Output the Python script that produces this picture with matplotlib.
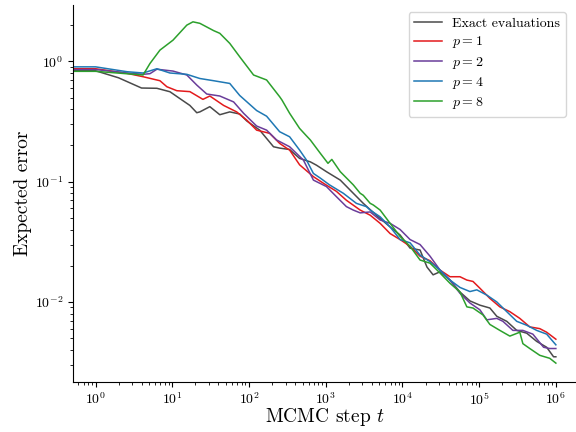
import numpy as np
import matplotlib
matplotlib.use("Agg")
import matplotlib.pyplot as plt

plt.rcParams['font.family'] = 'serif'
plt.rcParams['font.serif'] = ['cmr10', 'DejaVu Serif']
plt.rcParams['mathtext.fontset'] = 'cm'
plt.rcParams['axes.formatter.use_mathtext'] = True

# log10 of MCMC step t, and expected error
exact_lt = [-0.30, 0.00, 0.30, 0.60, 0.80, 0.97, 1.08, 1.23, 1.32, 1.36, 1.49, 1.62, 1.75, 1.88,
            1.97, 2.14, 2.32, 2.40, 2.53, 2.66, 2.80, 2.88, 3.01, 3.19, 3.36, 3.49, 3.66, 3.84,
            3.97, 4.10, 4.23, 4.32, 4.40, 4.49, 4.62, 4.75, 4.88, 5.01, 5.14, 5.23, 5.36, 5.49,
            5.62, 5.75, 5.88, 5.97, 6.00]
exact_err = [0.835, 0.835, 0.73, 0.60, 0.597, 0.559, 0.50, 0.43, 0.374, 0.38, 0.42, 0.36, 0.38, 0.365,
             0.32, 0.268, 0.195, 0.19, 0.185, 0.156, 0.146, 0.137, 0.121, 0.103, 0.080, 0.066, 0.0526, 0.042,
             0.036, 0.028, 0.027, 0.0195, 0.0168, 0.0178, 0.0152, 0.0121, 0.0102, 0.0094, 0.0089, 0.0076, 0.0069, 0.0058,
             0.0055, 0.0047, 0.0042, 0.0035, 0.0035]

p1_lt = [-0.30, 0.00, 0.41, 0.62, 0.84, 0.93, 1.06, 1.23, 1.40, 1.49, 1.67, 1.84, 1.97, 2.10,
         2.27, 2.40, 2.49, 2.53, 2.66, 2.84, 2.97, 3.14, 3.27, 3.45, 3.58, 3.71, 3.84, 3.97,
         4.10, 4.23, 4.36, 4.49, 4.62, 4.75, 4.84, 4.92, 5.01, 5.14, 5.27, 5.40, 5.53, 5.66,
         5.79, 5.88, 6.00]
p1_err = [0.868, 0.868, 0.795, 0.745, 0.69, 0.615, 0.57, 0.56, 0.483, 0.515, 0.43, 0.38, 0.325, 0.268,
          0.252, 0.208, 0.19, 0.183, 0.138, 0.11, 0.097, 0.083, 0.070, 0.058, 0.0526, 0.045, 0.037, 0.033,
          0.029, 0.024, 0.022, 0.0184, 0.0162, 0.0162, 0.0152, 0.0148, 0.013, 0.0107, 0.0091, 0.0083, 0.0073, 0.0062,
          0.0060, 0.0056, 0.0049]

p2_lt = [-0.30, 0.00, 0.41, 0.62, 0.71, 0.80, 1.01, 1.19, 1.32, 1.45, 1.62, 1.80, 1.93, 2.10,
         2.23, 2.36, 2.53, 2.71, 2.84, 3.01, 3.14, 3.27, 3.36, 3.45, 3.58, 3.71, 3.84, 3.97,
         4.10, 4.23, 4.36, 4.49, 4.62, 4.75, 4.88, 5.01, 5.10, 5.23, 5.31, 5.44, 5.57, 5.70,
         5.84, 5.92, 6.00]
p2_err = [0.855, 0.855, 0.80, 0.78, 0.79, 0.86, 0.83, 0.77, 0.635, 0.535, 0.515, 0.46, 0.37, 0.29,
          0.268, 0.222, 0.195, 0.151, 0.103, 0.091, 0.075, 0.062, 0.058, 0.055, 0.056, 0.048, 0.045, 0.040,
          0.033, 0.030, 0.024, 0.0184, 0.0152, 0.0118, 0.0098, 0.0086, 0.0071, 0.0073, 0.0069, 0.0058, 0.0058, 0.0054,
          0.0042, 0.0041, 0.0041]

p4_lt = [-0.30, 0.00, 0.41, 0.62, 0.80, 0.97, 1.19, 1.36, 1.54, 1.75, 1.88, 2.10, 2.23, 2.40,
         2.53, 2.66, 2.75, 2.84, 2.93, 3.05, 3.23, 3.40, 3.53, 3.58, 3.71, 3.84, 3.97, 4.10,
         4.23, 4.36, 4.49, 4.62, 4.75, 4.88, 4.97, 5.10, 5.23, 5.36, 5.49, 5.62, 5.75, 5.88,
         6.00]
p4_err = [0.90, 0.90, 0.82, 0.80, 0.868, 0.80, 0.78, 0.72, 0.69, 0.655, 0.52, 0.39, 0.35, 0.26,
          0.236, 0.183, 0.151, 0.117, 0.107, 0.094, 0.080, 0.066, 0.062, 0.058, 0.051, 0.042, 0.033, 0.031,
          0.0245, 0.0216, 0.0184, 0.0152, 0.0132, 0.0122, 0.0126, 0.0114, 0.010, 0.0083, 0.0069, 0.0064, 0.0058, 0.0054,
          0.0044]

p8_lt = [-0.30, 0.00, 0.62, 0.71, 0.84, 1.01, 1.19, 1.27, 1.36, 1.54, 1.62, 1.75, 1.88, 2.06,
         2.23, 2.40, 2.43, 2.53, 2.66, 2.75, 2.80, 2.93, 3.03, 3.08, 3.19, 3.36, 3.45, 3.49,
         3.58, 3.62, 3.71, 3.84, 3.97, 4.10, 4.23, 4.36, 4.49, 4.62, 4.75, 4.84, 4.92, 5.05,
         5.14, 5.27, 5.40, 5.53, 5.57, 5.66, 5.79, 5.92, 6.00]
p8_err = [0.826, 0.826, 0.77, 0.96, 1.24, 1.50, 2.0, 2.13, 2.07, 1.80, 1.71, 1.41, 1.09, 0.77,
          0.70, 0.508, 0.477, 0.37, 0.277, 0.24, 0.222, 0.172, 0.142, 0.153, 0.121, 0.094, 0.080, 0.077,
          0.066, 0.064, 0.058, 0.045, 0.035, 0.029, 0.0223, 0.021, 0.0174, 0.0143, 0.0121, 0.0091, 0.0089, 0.0078,
          0.0065, 0.0058, 0.0052, 0.0056, 0.0045, 0.0041, 0.0036, 0.0034, 0.0031]

labels = ["Exact evaluations", "$p = 1$", "$p = 2$", "$p = 4$", "$p = 8$"]
colors = ["#4a4a4a", "#e31a1c", "#6a3d9a", "#1f78b4", "#2ca02c"]
series = [(exact_lt, exact_err), (p1_lt, p1_err), (p2_lt, p2_err), (p4_lt, p4_err), (p8_lt, p8_err)]
xticks = [1e0, 1e1, 1e2, 1e3, 1e4, 1e5, 1e6]

fig = plt.figure(figsize=(5.76, 4.32), dpi=100)
ax = fig.add_axes([73 / 576, 50 / 432, 1 - 73 / 576, (382 - 5) / 432])

for (lt, err), lab, c in zip(series, labels, colors):
    ax.plot(10 ** np.array(lt), err, color=c, lw=1.1, label=lab)

ax.set_xscale('log')
ax.set_yscale('log')
ax.set_xticks(xticks)
ax.set_xlim(0.509, 1.83e6)
ax.set_ylim(0.00216, 2.94)
ax.spines['top'].set_visible(False)
ax.spines['right'].set_visible(False)
ax.set_xlabel("MCMC step $t$", fontsize=14, labelpad=-1.5)
ax.set_ylabel("Expected error", fontsize=14, labelpad=2)
ax.tick_params(labelsize=10)
ax.legend(loc='upper right', bbox_to_anchor=(566 / 576, 1 - 12 / 432),
          bbox_transform=fig.transFigure, borderaxespad=0, fontsize=10,
          labelspacing=0.3, handletextpad=0.75)

fig.savefig("out.png", dpi=100)
